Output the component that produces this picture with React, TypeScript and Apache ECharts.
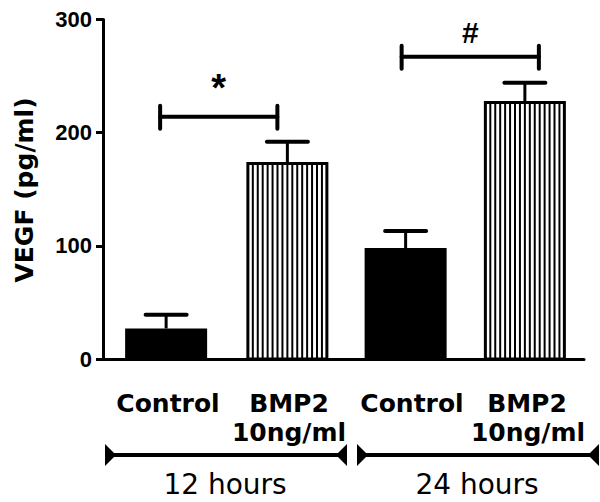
import React, { useEffect, useRef } from 'react';
import * as echarts from 'echarts';

// ---- data ----
const categories = ['Control', 'BMP2\n10ng/ml', 'Control', 'BMP2\n10ng/ml'];
const meanValues = [27, 174, 98, 228];
const errorValues = [12, 18, 15, 16];
const fillKinds = ['solid', 'hatched', 'solid', 'hatched'];
const timeGroups = ['12 hours', '24 hours'];
const yTickValues = [0, 100, 200, 300];
const sigFrom = [0, 2];
const sigTo = [1, 3];
const sigLevels = [214, 267];
const sigMarks = ['*', '#'];

// ---- layout ----
const barDx = [3, 4, 2, 1];
const bracketDxStart = [-3, -2];
const bracketDxEnd = [-6, 15];
const markOffset = [29, 24];
const markSize = [38, 30];
const labelLine1X = [168, 289, 412, 527];
const labelLine2X = [168, 289, 412, 528];
const groupTextX = [225, 477];
const groupSpans = [[105, 347], [357, 599]];

const BOLD = 'DejaVu Sans';

function renderBar(params: any, api: any) {
  const i = api.value(0);
  const v = api.value(1);
  const e = api.value(2);
  const base = api.coord([i, 0]);
  const cx = base[0] + barDx[i];
  const y0 = base[1];
  const yTop = api.coord([i, v])[1];
  const yCap = api.coord([i, v + e])[1];
  const w = 82;
  const x0 = cx - w / 2;
  const children: any[] = [];
  children.push({
    type: 'line',
    shape: { x1: cx, y1: yTop, x2: cx, y2: yCap },
    style: { stroke: '#000', lineWidth: 3 },
  });
  children.push({
    type: 'line',
    shape: { x1: cx - 20.5, y1: yCap, x2: cx + 20.5, y2: yCap },
    style: { stroke: '#000', lineWidth: 4, lineCap: 'round' },
  });
  if (fillKinds[i] === 'solid') {
    children.push({
      type: 'rect',
      shape: { x: x0, y: yTop, width: w, height: y0 - yTop },
      style: { fill: '#000' },
    });
  } else {
    children.push({
      type: 'rect',
      shape: { x: x0 + 1.5, y: yTop + 1.5, width: w - 3, height: y0 - yTop - 1.5 },
      style: { fill: '#fff', stroke: '#000', lineWidth: 3 },
    });
    const n = 16;
    for (let k = 1; k < n; k++) {
      const x = x0 + 1.5 + (k * (w - 3)) / n;
      children.push({
        type: 'line',
        shape: { x1: x, y1: yTop + 2, x2: x, y2: y0 },
        style: { stroke: '#000', lineWidth: 2 },
      });
    }
  }
  return { type: 'group', children };
}

function renderBracket(params: any, api: any) {
  const idx = params.dataIndex;
  const a = api.value(0);
  const b = api.value(1);
  const lvl = api.value(2);
  const pa = api.coord([a, lvl]);
  const pb = api.coord([b, lvl]);
  const x1 = pa[0] + bracketDxStart[idx];
  const x2 = pb[0] + bracketDxEnd[idx];
  const y = pa[1];
  const st = { stroke: '#000', lineWidth: 4, lineCap: 'round' };
  return {
    type: 'group',
    children: [
      { type: 'line', shape: { x1, y1: y, x2, y2: y }, style: st },
      { type: 'line', shape: { x1, y1: y - 11, x2: x1, y2: y + 12 }, style: st },
      { type: 'line', shape: { x1: x2, y1: y - 11, x2, y2: y + 12 }, style: st },
      {
        type: 'text',
        x: (x1 + x2) / 2,
        y: y - markOffset[idx],
        style: {
          text: sigMarks[idx],
          fontSize: markSize[idx],
          fontWeight: 'bold',
          fontFamily: 'Liberation Sans',
          fill: '#000',
          align: 'center',
          verticalAlign: 'middle',
          textAlign: 'center',
          textVerticalAlign: 'middle',
        },
      },
    ],
  };
}

function textEl(text: string, x: number, y: number, size: number, weight: string, rotation = 0) {
  return {
    type: 'text',
    x,
    y,
    rotation,
    style: {
      text,
      fontSize: size,
      fontWeight: weight,
      fontFamily: BOLD,
      fill: '#000',
      align: 'center',
      verticalAlign: 'middle',
      textAlign: 'center',
      textVerticalAlign: 'middle',
    },
  };
}

export default function App() {
  const ref = useRef<HTMLDivElement>(null);
  useEffect(() => {
    if (!ref.current) return;
    const chart = echarts.init(ref.current, null, { renderer: 'svg' });
    const graphic: any[] = [];
    graphic.push(textEl('VEGF (pg/ml)', 24, 190, 25, 'bold', Math.PI / 2));
    categories.forEach((c, i) => {
      const parts = c.split('\n');
      graphic.push(textEl(parts[0], labelLine1X[i], 403, 25, 'bold'));
      if (parts[1]) graphic.push(textEl(parts[1], labelLine2X[i], 432.5, 25, 'bold'));
    });
    timeGroups.forEach((g, i) => {
      const [xa, xb] = groupSpans[i];
      graphic.push({
        type: 'line',
        shape: { x1: xa + 2, y1: 455, x2: xb - 2, y2: 455 },
        style: { stroke: '#000', lineWidth: 4 },
      });
      graphic.push({
        type: 'polygon',
        shape: { points: [[xa, 444], [xa, 466], [xa + 11, 455]] },
        style: { fill: '#000' },
      });
      graphic.push({
        type: 'polygon',
        shape: { points: [[xb, 444], [xb, 466], [xb - 11, 455]] },
        style: { fill: '#000' },
      });
      graphic.push(textEl(g, groupTextX[i], 484, 28, 'normal'));
    });

    chart.setOption({
      animation: false,
      grid: { left: 103, right: 16, top: 19.5, bottom: 143 },
      xAxis: {
        type: 'category',
        data: categories,
        axisLine: { lineStyle: { color: '#000', width: 3 } },
        axisTick: { alignWithLabel: true, length: 8, lineStyle: { color: '#000', width: 3 } },
        axisLabel: { show: false },
        splitLine: { show: false },
      },
      yAxis: {
        type: 'value',
        min: yTickValues[0],
        max: yTickValues[yTickValues.length - 1],
        interval: yTickValues[1] - yTickValues[0],
        axisLine: { show: true, lineStyle: { color: '#000', width: 3 } },
        axisTick: { show: true, length: 7, lineStyle: { color: '#000', width: 3 } },
        axisLabel: {
          color: '#000',
          fontFamily: 'Liberation Sans',
          fontWeight: 'bold',
          fontSize: 22,
          margin: 11,
        },
        splitLine: { show: false },
      },
      series: [
        {
          type: 'custom',
          renderItem: renderBar,
          data: meanValues.map((v, i) => [i, v, errorValues[i]]),
          encode: { x: 0, y: 1 },
          z: 3,
        },
        {
          type: 'custom',
          renderItem: renderBracket,
          data: sigLevels.map((l, i) => [sigFrom[i], sigTo[i], l]),
          encode: { x: 0, y: 2 },
          z: 4,
        },
      ],
      graphic,
    });
    return () => chart.dispose();
  }, []);
  return (
    <div
      ref={ref}
      style={{ position: 'fixed', left: 0, top: 0, width: 600, height: 502, background: '#fff' }}
    />
  );
}
